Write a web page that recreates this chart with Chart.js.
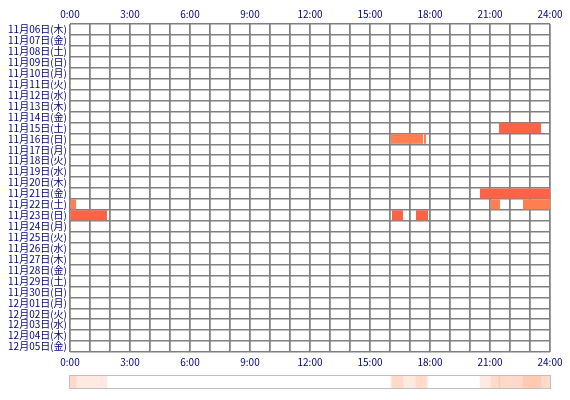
<!DOCTYPE html>
<html>
<head>
<meta charset="utf-8">
<script src="https://cdn.jsdelivr.net/npm/chart.js@4"></script>
<style>
body { margin: 0; background: #fff; }
#wrap { position: relative; width: 570px; height: 400px; }
#main { position: absolute; left: 0; top: 0; }
#strip { position: absolute; left: 0; top: 375px; }
#stripBorder { position: absolute; left: 69px; top: 375px; width: 480px; height: 12px; border: 1px solid #c0c0c0; }
</style>
</head>
<body>
<div id="wrap">
  <canvas id="main" width="570" height="372"></canvas>
  <canvas id="strip" width="570" height="14"></canvas>
  <div id="stripBorder"></div>
</div>
<script>
// Rows: one per day
const days = ['11月06日(木)','11月07日(金)','11月08日(土)','11月09日(日)','11月10日(月)','11月11日(火)',
  '11月12日(水)','11月13日(木)','11月14日(金)','11月15日(土)','11月16日(日)','11月17日(月)',
  '11月18日(火)','11月19日(水)','11月20日(木)','11月21日(金)','11月22日(土)','11月23日(日)',
  '11月24日(月)','11月25日(火)','11月26日(水)','11月27日(木)','11月28日(金)','11月29日(土)',
  '11月30日(日)','12月01日(月)','12月02日(火)','12月03日(水)','12月04日(木)','12月05日(金)'];

// Sessions: [day label, start hour, end hour]
const redSessions = [
  ['11月15日(土)', 21.45, 23.55],
  ['11月21日(金)', 20.5, 24],
  ['11月23日(日)', 0, 1.85],
  ['11月23日(日)', 16.1, 16.65],
  ['11月23日(日)', 17.3, 17.9]
];
const orangeSessions = [
  ['11月16日(日)', 16.05, 17.65],
  ['11月16日(日)', 17.7, 17.8],
  ['11月22日(土)', 0, 0.3],
  ['11月22日(土)', 21.05, 21.5],
  ['11月22日(土)', 22.65, 24]
];
const hourTicks = [0, 3, 6, 9, 12, 15, 18, 21, 24];

const RED = '#ff6347';
const ORANGE = '#ff7f50';
const FONT = { family: '"Noto Sans CJK JP", sans-serif', size: 10 };

function toDatasets(sessions, color) {
  return sessions.map(s => ({
    data: days.map(d => d === s[0] ? [s[1], s[2]] : null),
    backgroundColor: color,
    barPercentage: 1,
    categoryPercentage: 0.92,
    xAxisID: 'x'
  }));
}

function hourAxis(position) {
  return {
    type: 'linear', position: position, min: 0, max: 24,
    border: { display: false },
    grid: { color: '#808080', lineWidth: 1.5, drawTicks: false },
    ticks: {
      stepSize: 1, autoSkip: false, maxRotation: 0, color: '#000080', font: FONT, padding: 4,
      callback: v => hourTicks.includes(v) ? v + ':00' : ''
    }
  };
}

const datasets = toDatasets(redSessions, RED).concat(toDatasets(orangeSessions, ORANGE));
// top axis needs a dataset to be drawn
datasets.push({ data: [], xAxisID: 'x2' });

new Chart(document.getElementById('main'), {
  type: 'bar',
  data: { labels: days, datasets: datasets },
  options: {
    responsive: false, animation: false, indexAxis: 'y',
    layout: { padding: { left: 0, right: 20, top: 4 } },
    plugins: { legend: { display: false }, tooltip: { enabled: false } },
    scales: {
      x: hourAxis('bottom'),
      x2: hourAxis('top'),
      y: {
        stacked: true, offset: true,
        afterFit: axis => { axis.width = 70; },
        border: { display: false },
        grid: { color: '#808080', lineWidth: 1.5, offset: true, drawTicks: false },
        ticks: { color: '#000080', font: FONT, padding: 3, autoSkip: false }
      }
    }
  }
});

// Summary strip: all sessions overlaid faintly
const allSessions = redSessions.concat(orangeSessions);
new Chart(document.getElementById('strip'), {
  type: 'bar',
  data: {
    labels: ['all'],
    datasets: allSessions.map(s => ({
      data: [[s[1], s[2]]],
      backgroundColor: 'rgba(255,140,90,0.18)',
      barPercentage: 1, categoryPercentage: 1
    }))
  },
  options: {
    responsive: false, animation: false, indexAxis: 'y',
    layout: { padding: { left: 70, right: 20 } },
    plugins: { legend: { display: false }, tooltip: { enabled: false } },
    scales: {
      x: { display: false, min: 0, max: 24 },
      y: { display: false, stacked: true }
    }
  }
});
</script>
</body>
</html>
